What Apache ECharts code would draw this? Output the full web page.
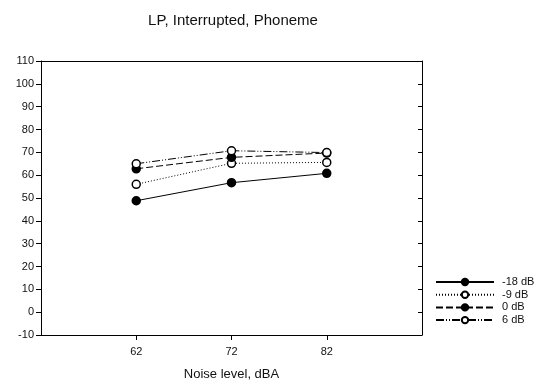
<!DOCTYPE html>
<html><head><meta charset="utf-8">
<script src="https://cdn.jsdelivr.net/npm/echarts@6/dist/echarts.min.js"></script>
<style>html,body{margin:0;padding:0;background:#fff}#c{width:539px;height:383px}</style>
</head><body><div id="c"></div>
<script>
const noiseLevels = [62, 72, 82];
const seriesNames = ['-18 dB', '-9 dB', '0 dB', '6 dB'];
const valsM18 = [48.8, 56.7, 60.8];
const valsM9 = [56.0, 65.2, 65.6];
const vals0 = [62.8, 67.8, 69.7];
const vals6 = [65.0, 70.7, 69.9];
const yTicks = [-10, 0, 10, 20, 30, 40, 50, 60, 70, 80, 90, 100, 110];

const font = 'Liberation Sans, Arial, sans-serif';
const styles = [
  {fill: '#000', dash: 'solid'},
  {fill: '#fff', dash: [1, 2]},
  {fill: '#000', dash: [7, 3]},
  {fill: '#fff', dash: [8, 2, 1, 2, 1, 2]}
];
const allVals = [valsM18, valsM9, vals0, vals6];

const series = seriesNames.map((name, i) => ({
  name,
  type: 'line',
  data: noiseLevels.map((x, j) => [x, allVals[i][j]]),
  symbol: 'circle',
  symbolSize: 8,
  lineStyle: {color: '#000', width: 1, type: styles[i].dash},
  itemStyle: {color: styles[i].fill, borderColor: '#000', borderWidth: 1.5},
  emphasis: {disabled: true},
  animation: false,
  z: 2 + i
}));

const chart = echarts.init(document.getElementById('c'), null, {renderer: 'canvas'});
chart.setOption({
  animation: false,
  title: {
    text: 'LP, Interrupted, Phoneme',
    left: 228, top: 8, textAlign: 'center',
    textStyle: {fontFamily: font, fontSize: 15, fontWeight: 'normal', color: '#111'}
  },
  legend: {
    data: seriesNames,
    orient: 'vertical',
    left: 435, top: 276,
    itemWidth: 58, itemHeight: 8, itemGap: 0.7,
    textStyle: {fontFamily: font, fontSize: 11, lineHeight: 12, color: '#111', padding: [0, 0, 0, 3]},
    padding: 0
  },
  grid: {left: 41, top: 61, right: 117, bottom: 48, containLabel: false, outerBoundsMode: 'none'},
  xAxis: [{
    type: 'value', min: 52, max: 92, interval: 10, position: 'bottom',
    name: 'Noise level, dBA', nameLocation: 'middle', nameGap: 33,
    nameTextStyle: {fontFamily: font, fontSize: 13, color: '#111'},
    axisLine: {onZero: false, lineStyle: {color: '#000', width: 1}},
    axisTick: {show: true, length: 5, inside: false, customValues: noiseLevels, lineStyle: {color: '#000'}},
    axisLabel: {customValues: noiseLevels, fontFamily: font, fontSize: 11, color: '#111', margin: 11},
    splitLine: {show: false}
  }, {
    type: 'value', min: 52, max: 92, interval: 10, position: 'top',
    axisLine: {show: true, onZero: false, lineStyle: {color: '#000', width: 1}},
    axisTick: {show: false}, axisLabel: {show: false}, splitLine: {show: false}
  }],
  yAxis: [{
    type: 'value', min: -10, max: 110, interval: 10, position: 'left',
    axisLine: {show: true, onZero: false, lineStyle: {color: '#000', width: 1}},
    axisTick: {show: true, length: 5, lineStyle: {color: '#000'}},
    axisLabel: {fontFamily: font, fontSize: 11, color: '#111', margin: 7},
    splitLine: {show: false}
  }, {
    type: 'value', min: -10, max: 110, interval: 10, position: 'right',
    axisLine: {show: true, onZero: false, lineStyle: {color: '#000', width: 1}},
    axisTick: {show: true, inside: true, length: 4, lineStyle: {color: '#000'}},
    axisLabel: {show: false}, splitLine: {show: false}
  }],
  series
});
</script></body></html>
